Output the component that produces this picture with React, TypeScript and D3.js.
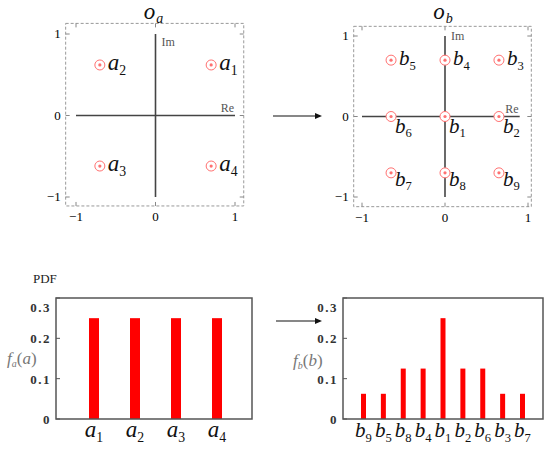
import React from 'react';
import * as d3 from 'd3';

// constellation points (Re, Im)
const aLabels = ['1', '2', '3', '4'];
const aRe = [0.7, -0.7, -0.7, 0.7];
const aIm = [0.62, 0.62, -0.62, -0.62];

const bLabels = ['1', '2', '3', '4', '5', '6', '7', '8', '9'];
const bRe = [0, 0.65, 0.65, 0, -0.65, -0.65, -0.65, 0, 0.65];
const bIm = [0, 0, 0.7, 0.7, 0.7, 0, -0.7, -0.7, -0.7];
// where the label sits relative to its point
const bPlace = ['down', 'down', 'up', 'up', 'up', 'down', 'low', 'low', 'low'];

// PDFs
const pdfACats = ['1', '2', '3', '4'];
const pdfAVals = [0.25, 0.25, 0.25, 0.25];
const pdfBCats = ['9', '5', '8', '4', '1', '2', '6', '3', '7'];
const pdfBVals = [0.0625, 0.0625, 0.125, 0.125, 0.25, 0.125, 0.125, 0.0625, 0.0625];
const pdfTicks = [0, 0.1, 0.2, 0.3];
const planeTicks = [-1, 0, 1];

const serif = "'Liberation Serif', 'Times New Roman', 'DejaVu Serif', serif";
const pointColor = '#ff7070';
const axisColor = '#444';

const Sym = ({ x, y, letter, sub, size = 22, anchor = 'start' }) => (
  <text x={x} y={y} style={{ fontFamily: serif, fontSize: size }} textAnchor={anchor} fill="#111">
    <tspan fontStyle="italic">{letter}</tspan>
    <tspan style={{ fontSize: size * 0.6 }} dy={size * 0.22}>{sub}</tspan>
  </text>
);

const Plane = ({ xRange, yRange, boxX, boxY, hEnd, pts, letter, place, imDy }) => {
  const x = d3.scaleLinear().domain([-1, 1]).range(xRange);
  const y = d3.scaleLinear().domain([-1, 1]).range(yRange);
  const bx0 = x(boxX[0]), bx1 = x(boxX[1]), by0 = y(boxY[1]), by1 = y(boxY[0]);
  return (
    <g>
      <rect x={bx0} y={by0} width={bx1 - bx0} height={by1 - by0} fill="none"
        stroke="#999" strokeDasharray="3,2" strokeWidth={1} />
      {planeTicks.map(t => (
        <g key={'t' + t}>
          <line x1={x(t)} x2={x(t)} y1={by1} y2={by1 - 4} stroke="#888" />
          <line x1={x(t)} x2={x(t)} y1={by0} y2={by0 + 4} stroke="#888" />
          <line y1={y(t)} y2={y(t)} x1={bx0} x2={bx0 + 4} stroke="#888" />
          <line y1={y(t)} y2={y(t)} x1={bx1} x2={bx1 - 4} stroke="#888" />
          <text x={x(t)} y={by1 + 15} textAnchor="middle" style={{ fontFamily: serif, fontSize: 13 }}>
            {t < 0 ? '\u22121' : t}
          </text>
          <text x={bx0 - 5} y={y(t) + 4} textAnchor="end" style={{ fontFamily: serif, fontSize: 13 }}>
            {t < 0 ? '\u22121' : t}
          </text>
        </g>
      ))}
      <line x1={x(-1)} x2={x(hEnd)} y1={y(0)} y2={y(0)} stroke={axisColor} strokeWidth={1.6} />
      <line x1={x(0)} x2={x(0)} y1={y(-1)} y2={y(1)} stroke={axisColor} strokeWidth={1.6} />
      <text x={x(0) + 6} y={y(1) + imDy} style={{ fontFamily: serif, fontSize: 12 }} fill="#555">Im</text>
      <text x={x(hEnd) - 1} y={y(0) - 4} textAnchor="end" style={{ fontFamily: serif, fontSize: 12 }} fill="#555">Re</text>
      <text x={x(0) - 2} y={19} textAnchor="middle" style={{ fontFamily: serif, fontSize: 23 }} fill="#111">
        <tspan fontStyle="italic">o</tspan>
        <tspan fontStyle="italic" style={{ fontSize: 14 }} dx={1} dy={4}>{letter}</tspan>
      </text>
      {pts.map((p, i) => {
        const cx = x(p.re), cy = y(p.im);
        const pl = place ? place(i) : 'up';
        const dx = pl === 'up' ? 8 : 4;
        const dy = pl === 'up' ? 5 : pl === 'down' ? 16 : 13;
        return (
          <g key={i}>
            <circle cx={cx} cy={cy} r={5} fill="#fff" stroke={pointColor} strokeWidth={1} />
            <circle cx={cx} cy={cy} r={1.6} fill={pointColor} />
            <Sym x={cx + dx} y={cy + dy} letter={p.letter} sub={p.sub} size={letter === 'a' ? 23 : 21} />
          </g>
        );
      })}
    </g>
  );
};

const Arrow = ({ x1, x2, y }) => (
  <g>
    <line x1={x1} x2={x2 - 6} y1={y} y2={y} stroke="#111" strokeWidth={1.2} />
    <path d={`M${x2},${y} L${x2 - 7},${y - 3} L${x2 - 7},${y + 3} Z`} fill="#111" />
  </g>
);

const Bars = ({ left, right, cats, vals, first, last, barW, letter, size, ylabX, ylabY }) => {
  const yS = d3.scaleLinear().domain([0, 0.3]).range([419, 298]);
  const xS = d3.scalePoint().domain(cats).range([first, last]);
  return (
    <g>
      {cats.map((c, i) => (
        <rect key={c} x={xS(c) - barW / 2} y={yS(vals[i])} width={barW}
          height={yS(0) - yS(vals[i])} fill="#ff0000" />
      ))}
      {pdfTicks.map(t => (
        <g key={t}>
          <line x1={left} x2={left + 4} y1={yS(t)} y2={yS(t)} stroke="#555" />
          <text x={left - 5} y={yS(t) + (t === 0.3 ? 14 : 5)} textAnchor="end"
            style={{ fontFamily: serif, fontSize: 13, fontWeight: 'bold', letterSpacing: 1.5 }} fill="#333">
            {t === 0 ? '0' : t.toFixed(1)}
          </text>
        </g>
      ))}
      <rect x={left} y={yS(0.3)} width={right - left} height={yS(0) - yS(0.3)}
        fill="none" stroke="#555" strokeWidth={1.5} />
      {cats.map(c => (
        <Sym key={'l' + c} x={xS(c)} y={437} letter={letter} sub={c} size={size} anchor="middle" />
      ))}
      <text x={ylabX} y={ylabY} style={{ fontFamily: serif, fontSize: 17 }} fill="#777">
        <tspan fontStyle="italic">f</tspan>
        <tspan fontStyle="italic" style={{ fontSize: 10 }} dy={3}>{letter}</tspan>
        <tspan dy={-3}>(</tspan>
        <tspan fontStyle="italic">{letter}</tspan>
        <tspan>)</tspan>
      </text>
    </g>
  );
};

export default function App() {
  const aPts = aRe.map((re, i) => ({ re, im: aIm[i], letter: 'a', sub: aLabels[i] }));
  const bPts = bRe.map((re, i) => ({ re, im: bIm[i], letter: 'b', sub: bLabels[i] }));
  return (
    <svg width={550} height={458} style={{ position: 'absolute', left: 0, top: 0, background: '#fff' }}>
      <Plane xRange={[76, 235]} yRange={[197, 34]} boxX={[-1.13, 1.11]} boxY={[-1.11, 1.13]}
        hEnd={1} pts={aPts} letter="a" imDy={12} />
      <Plane xRange={[362, 528]} yRange={[197, 36]} boxX={[-1.1, 1.04]} boxY={[-1.12, 1.12]}
        hEnd={0.9} pts={bPts} letter="b" place={i => bPlace[i]} imDy={4} />
      <Arrow x1={273} x2={322} y={116} />
      <Arrow x1={276} x2={322} y={321} />
      <text x={33} y={283} style={{ fontFamily: serif, fontSize: 13 }} fill="#222">PDF</text>
      <Bars left={56} right={252} cats={pdfACats} vals={pdfAVals} first={94} last={217}
        barW={10} letter="a" size={23} ylabX={7} ylabY={364} />
      <Bars left={343} right={543} cats={pdfBCats} vals={pdfBVals} first={363.5} last={522.5}
        barW={5} letter="b" size={21} ylabX={293} ylabY={366} />
    </svg>
  );
}
